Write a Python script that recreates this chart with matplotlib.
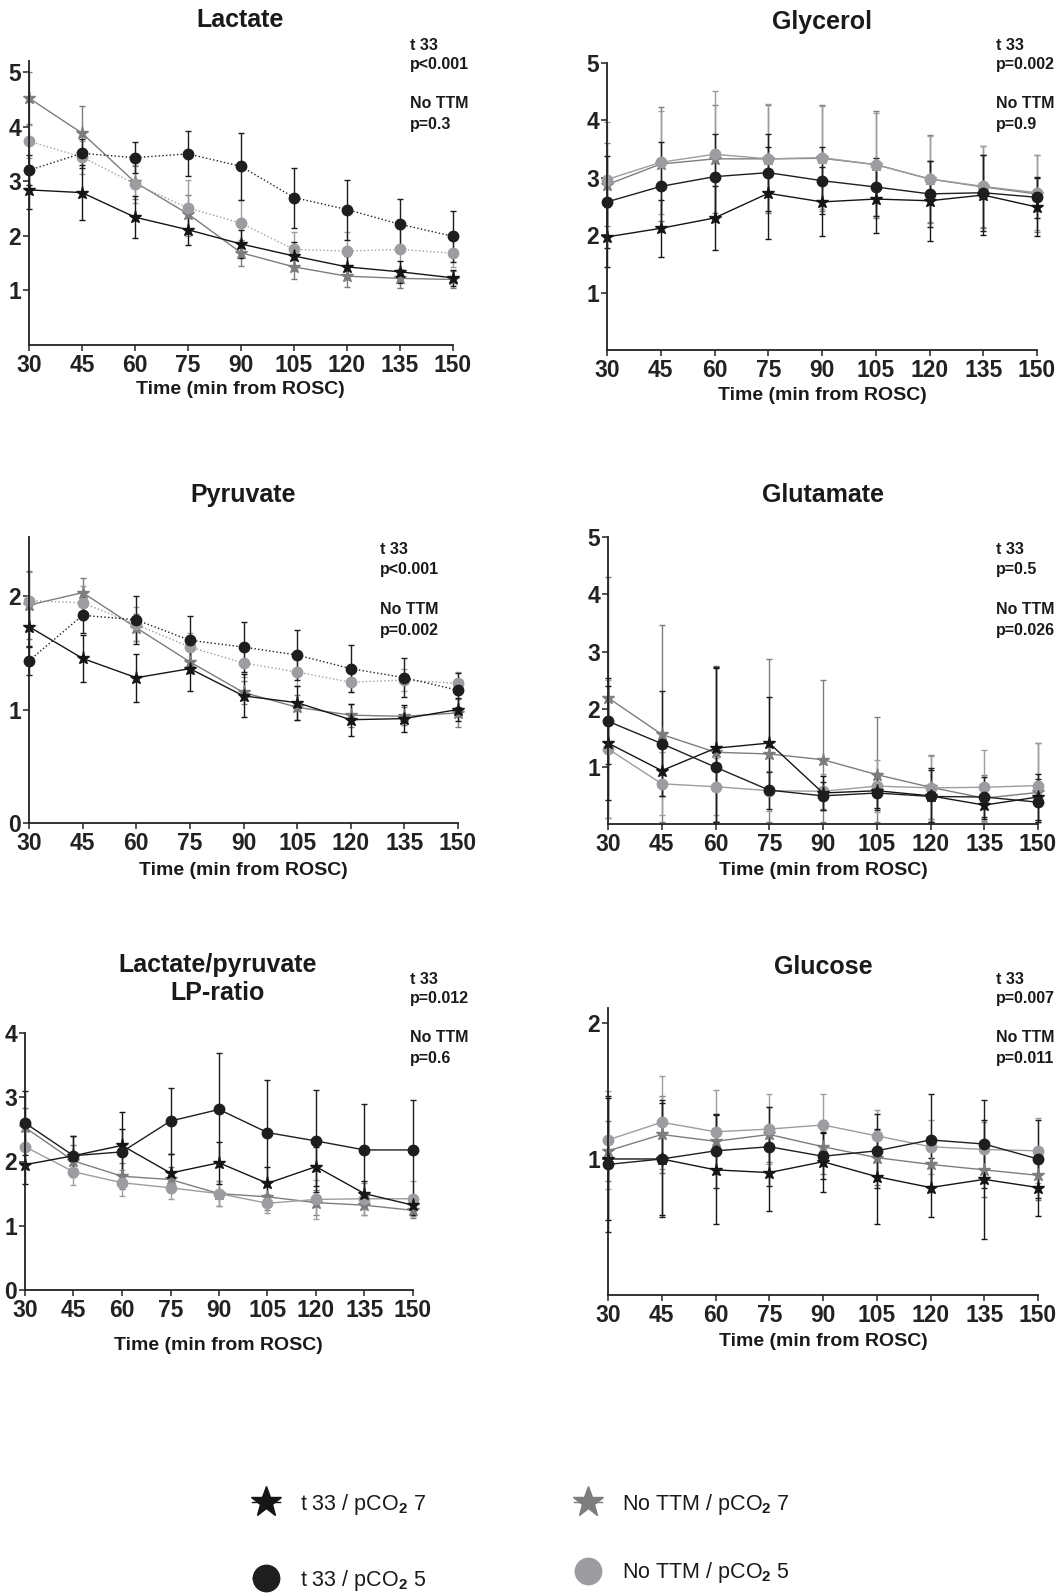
import numpy as np
import matplotlib
matplotlib.use("Agg")
import matplotlib.pyplot as plt
from matplotlib import font_manager
from matplotlib.lines import Line2D

W, H = 1060, 1593

# time points (min from ROSC)
times = [30, 45, 60, 75, 90, 105, 120, 135, 150]

# Lactate
lactate_t7 = [2.84, 2.79, 2.34, 2.11, 1.85, 1.63, 1.43, 1.34, 1.23]
lactate_t7_se = [0.35, 0.5, 0.38, 0.28, 0.25, 0.25, 0.2, 0.2, 0.15]
lactate_t5 = [3.20, 3.51, 3.43, 3.50, 3.27, 2.70, 2.48, 2.21, 1.99]
lactate_t5_se = [0.27, 0.27, 0.28, 0.41, 0.62, 0.55, 0.55, 0.46, 0.47]
lactate_n7 = [4.52, 3.88, 2.98, 2.40, 1.69, 1.43, 1.26, 1.22, 1.20]
lactate_n7_se = [0.48, 0.49, 0.3, 0.35, 0.24, 0.23, 0.2, 0.17, 0.15]
lactate_n5 = [3.73, 3.44, 2.95, 2.51, 2.23, 1.75, 1.72, 1.75, 1.68]
lactate_n5_se = [0.3, 0.3, 0.35, 0.52, 0.42, 0.32, 0.35, 0.38, 0.25]

# Glycerol
glycerol_t7 = [1.97, 2.12, 2.30, 2.73, 2.58, 2.63, 2.60, 2.70, 2.49]
glycerol_t7_se = [0.53, 0.5, 0.56, 0.8, 0.6, 0.6, 0.7, 0.7, 0.5]
glycerol_t5 = [2.58, 2.85, 3.02, 3.09, 2.95, 2.84, 2.72, 2.74, 2.66]
glycerol_t5_se = [0.8, 0.78, 0.74, 0.67, 0.58, 0.5, 0.58, 0.66, 0.36]
glycerol_n7 = [2.88, 3.24, 3.33, 3.33, 3.34, 3.23, 2.98, 2.84, 2.72]
glycerol_n7_se = [0.72, 1.0, 0.94, 0.94, 0.92, 0.93, 0.77, 0.72, 0.67]
glycerol_n5 = [2.97, 3.27, 3.41, 3.33, 3.35, 3.23, 2.98, 2.85, 2.74]
glycerol_n5_se = [1.0, 0.9, 1.1, 0.95, 0.9, 0.9, 0.75, 0.7, 0.65]

# Pyruvate
pyruvate_t7 = [1.73, 1.45, 1.28, 1.36, 1.12, 1.06, 0.91, 0.92, 1.00]
pyruvate_t7_se = [0.18, 0.21, 0.21, 0.2, 0.19, 0.15, 0.14, 0.12, 0.1]
pyruvate_t5 = [1.43, 1.83, 1.79, 1.61, 1.55, 1.48, 1.36, 1.28, 1.17]
pyruvate_t5_se = [0.13, 0.16, 0.21, 0.21, 0.22, 0.22, 0.21, 0.17, 0.15]
pyruvate_n7 = [1.92, 2.03, 1.72, 1.42, 1.15, 1.02, 0.95, 0.94, 0.97]
pyruvate_n7_se = [0.3, 0.13, 0.12, 0.1, 0.1, 0.11, 0.1, 0.08, 0.12]
pyruvate_n5 = [1.96, 1.94, 1.75, 1.55, 1.41, 1.33, 1.24, 1.26, 1.23]
pyruvate_n5_se = [0.25, 0.15, 0.15, 0.12, 0.12, 0.12, 0.09, 0.1, 0.1]

# Glutamate
glutamate_t7 = [1.41, 0.93, 1.32, 1.41, 0.54, 0.58, 0.49, 0.33, 0.47]
glutamate_t7_se = [1.0, 0.44, 1.4, 0.8, 0.3, 0.3, 0.45, 0.25, 0.4]
glutamate_t5 = [1.79, 1.40, 0.99, 0.59, 0.49, 0.54, 0.48, 0.47, 0.38]
glutamate_t5_se = [0.75, 0.91, 1.74, 0.32, 0.25, 0.3, 0.5, 0.35, 0.4]
glutamate_n7 = [2.20, 1.56, 1.25, 1.22, 1.12, 0.86, 0.64, 0.45, 0.55]
glutamate_n7_se = [2.1, 1.9, 1.5, 1.66, 1.39, 1.0, 0.56, 0.4, 0.86]
glutamate_n5 = [1.31, 0.70, 0.65, 0.58, 0.57, 0.66, 0.63, 0.64, 0.67]
glutamate_n5_se = [1.2, 0.55, 0.5, 0.35, 0.3, 0.45, 0.55, 0.65, 0.74]

# Lactate/pyruvate ratio
lp_t7 = [1.95, 2.09, 2.25, 1.82, 1.98, 1.66, 1.92, 1.50, 1.32]
lp_t7_se = [0.3, 0.3, 0.52, 0.3, 0.33, 0.25, 0.3, 0.2, 0.15]
lp_t5 = [2.60, 2.09, 2.15, 2.63, 2.81, 2.45, 2.32, 2.18, 2.18]
lp_t5_se = [0.5, 0.3, 0.35, 0.51, 0.88, 0.82, 0.8, 0.72, 0.78]
lp_n7 = [2.53, 2.01, 1.77, 1.72, 1.50, 1.45, 1.36, 1.32, 1.24]
lp_n7_se = [0.3, 0.25, 0.2, 0.2, 0.2, 0.2, 0.2, 0.15, 0.12]
lp_n5 = [2.23, 1.84, 1.67, 1.59, 1.50, 1.35, 1.41, 1.42, 1.42]
lp_n5_se = [0.3, 0.2, 0.2, 0.18, 0.2, 0.15, 0.3, 0.25, 0.27]

# Glucose
glucose_t7 = [1.00, 1.00, 0.92, 0.90, 0.98, 0.87, 0.79, 0.85, 0.79]
glucose_t7_se = [0.45, 0.41, 0.4, 0.28, 0.22, 0.35, 0.22, 0.44, 0.21]
glucose_t5 = [0.96, 1.00, 1.06, 1.09, 1.02, 1.06, 1.14, 1.11, 1.00]
glucose_t5_se = [0.5, 0.43, 0.27, 0.29, 0.17, 0.27, 0.34, 0.32, 0.29]
glucose_n7 = [1.06, 1.18, 1.13, 1.18, 1.09, 1.01, 0.96, 0.92, 0.88]
glucose_n7_se = [0.22, 0.28, 0.2, 0.2, 0.2, 0.2, 0.2, 0.2, 0.18]
glucose_n5 = [1.14, 1.27, 1.20, 1.22, 1.25, 1.17, 1.09, 1.07, 1.06]
glucose_n5_se = [0.36, 0.34, 0.31, 0.26, 0.23, 0.19, 0.2, 0.2, 0.24]

# p-values shown on each panel
pvals = {
    "Lactate": ("p<0.001", "p=0.3"),
    "Glycerol": ("p=0.002", "p=0.9"),
    "Pyruvate": ("p<0.001", "p=0.002"),
    "Glutamate": ("p=0.5", "p=0.026"),
    "LP": ("p=0.012", "p=0.6"),
    "Glucose": ("p=0.007", "p=0.011"),
}

legend_labels = ["t 33 / pCO$_2$ 7", "t 33 / pCO$_2$ 5",
                 "No TTM / pCO$_2$ 7", "No TTM / pCO$_2$ 5"]

BLACK = "#151515"
DARK = "#1e1e1e"
GREY = "#7d7d7d"
LIGHT = "#9d9da1"

names = {f.name for f in font_manager.fontManager.ttflist}
legend_font = "Liberation Sans Narrow" if "Liberation Sans Narrow" in names else "Liberation Sans"
legend_size = 18 if legend_font == "Liberation Sans Narrow" else 15.5

plt.rcParams['font.family'] = ['Liberation Sans', 'DejaVu Sans']
plt.rcParams['font.weight'] = 'bold'
plt.rcParams['mathtext.fontset'] = 'custom'
plt.rcParams['mathtext.rm'] = legend_font
plt.rcParams['mathtext.it'] = legend_font
plt.rcParams['mathtext.bf'] = legend_font


def box(l, t, r, b):
    return [l / W, 1 - b / H, (r - l) / W, (b - t) / H]


def ftext(fig, x, y, s, **kw):
    fig.text(x / W, 1 - y / H, s, **kw)


def draw_series(ax, y, se, color, marker, ms, ls):
    y = np.array(y)
    se = np.array(se)
    lower = np.minimum(se, y - 0.03)
    ax.errorbar(times, y, yerr=[lower, se], color=color, marker=marker, ms=ms,
                ls=ls, lw=1.0, elinewidth=1.0, capsize=2.5, capthick=1.0,
                mec=color, mfc=color, clip_on=False)


def panel(fig, rect, ylim, yticks, series, circle_ls):
    ax = fig.add_axes(box(*rect))
    n7, n7_se, n5, n5_se, t7, t7_se, t5, t5_se = series
    draw_series(ax, n7, n7_se, GREY, "*", 9.5, "-")
    draw_series(ax, n5, n5_se, LIGHT, "o", 7.5, circle_ls)
    draw_series(ax, t7, t7_se, BLACK, "*", 9.5, "-")
    draw_series(ax, t5, t5_se, DARK, "o", 7.5, circle_ls)
    ax.set_xlim(30, 150)
    ax.set_ylim(*ylim)
    ax.set_xticks(times)
    ax.set_yticks(yticks)
    for side in ["top", "right"]:
        ax.spines[side].set_visible(False)
    for side in ["left", "bottom"]:
        ax.spines[side].set_linewidth(1.3)
        ax.spines[side].set_color("#222222")
    ax.tick_params(direction="out", length=4, width=1.1, labelsize=16.5,
                   colors="#222222", pad=1.5)
    ax.tick_params(axis="x", pad=2.5)
    for lab in ax.get_xticklabels() + ax.get_yticklabels():
        lab.set_fontweight("bold")
    return ax


def annotate(fig, x, y, key):
    p1, p2 = pvals[key]
    kw = dict(fontsize=11.5, fontweight="bold", ha="left", va="center", color="#1a1a1a")
    ftext(fig, x, y, "t 33", **kw)
    ftext(fig, x, y + 20, p1, **kw)
    ftext(fig, x, y + 59, "No TTM", **kw)
    ftext(fig, x, y + 80, p2, **kw)


fig = plt.figure(figsize=(W / 100, H / 100), dpi=100)
title_kw = dict(fontsize=18, fontweight="bold", ha="center", va="center", color="#1a1a1a")
xlab_kw = dict(fontsize=14, fontweight="bold", ha="center", va="center", color="#1a1a1a")
xlab = "Time (min from ROSC)"

panel(fig, (29, 61, 453, 345), (0, 5.2), [1, 2, 3, 4, 5],
      (lactate_n7, lactate_n7_se, lactate_n5, lactate_n5_se,
       lactate_t7, lactate_t7_se, lactate_t5, lactate_t5_se), ":")
ftext(fig, 240, 20, "Lactate", **title_kw)
ftext(fig, 240, 389, xlab, **xlab_kw)
annotate(fig, 410, 45, "Lactate")

panel(fig, (607, 63, 1037, 350), (0, 5), [1, 2, 3, 4, 5],
      (glycerol_n7, glycerol_n7_se, glycerol_n5, glycerol_n5_se,
       glycerol_t7, glycerol_t7_se, glycerol_t5, glycerol_t5_se), "-")
ftext(fig, 822, 22, "Glycerol", **title_kw)
ftext(fig, 822, 396, xlab, **xlab_kw)
annotate(fig, 996, 45, "Glycerol")

panel(fig, (29, 537, 458, 823), (0, 2.52), [0, 1, 2],
      (pyruvate_n7, pyruvate_n7_se, pyruvate_n5, pyruvate_n5_se,
       pyruvate_t7, pyruvate_t7_se, pyruvate_t5, pyruvate_t5_se), ":")
ftext(fig, 243, 495, "Pyruvate", **title_kw)
ftext(fig, 243, 870, xlab, **xlab_kw)
annotate(fig, 380, 550, "Pyruvate")

panel(fig, (608, 537, 1038, 824), (0, 5), [1, 2, 3, 4, 5],
      (glutamate_n7, glutamate_n7_se, glutamate_n5, glutamate_n5_se,
       glutamate_t7, glutamate_t7_se, glutamate_t5, glutamate_t5_se), "-")
ftext(fig, 823, 495, "Glutamate", **title_kw)
ftext(fig, 823, 870, xlab, **xlab_kw)
annotate(fig, 996, 550, "Glutamate")

panel(fig, (25, 1033, 413, 1290), (0, 4), [0, 1, 2, 3, 4],
      (lp_n7, lp_n7_se, lp_n5, lp_n5_se, lp_t7, lp_t7_se, lp_t5, lp_t5_se), "-")
ftext(fig, 218, 965, "Lactate/pyruvate", **title_kw)
ftext(fig, 218, 993, "LP-ratio", **title_kw)
ftext(fig, 218, 1346, xlab, **xlab_kw)
annotate(fig, 410, 979, "LP")

panel(fig, (608, 1008, 1038, 1295), (0, 2.11), [1, 2],
      (glucose_n7, glucose_n7_se, glucose_n5, glucose_n5_se,
       glucose_t7, glucose_t7_se, glucose_t5, glucose_t5_se), "-")
ftext(fig, 823, 967, "Glucose", **title_kw)
ftext(fig, 823, 1342, xlab, **xlab_kw)
annotate(fig, 996, 979, "Glucose")

# legend, two columns
h_t7 = Line2D([], [], color=BLACK, marker="*", ms=23, lw=1.0, ls="-")
h_t5 = Line2D([], [], color=DARK, marker="o", ms=19, lw=1.0, ls=":")
h_n7 = Line2D([], [], color=GREY, marker="*", ms=23, lw=1.0, ls="-")
h_n5 = Line2D([], [], color=LIGHT, marker="o", ms=19, lw=1.0, ls=":")

leg_kw = dict(frameon=False, loc="upper left", borderpad=0, borderaxespad=0,
              handlelength=1.3, handletextpad=0.95, labelspacing=2.35,
              prop={"family": legend_font, "size": legend_size, "weight": "normal"})
leg1 = fig.legend([h_t7, h_t5], legend_labels[:2],
                  bbox_to_anchor=(252 / W, 1 - 1492 / H), **leg_kw)
leg_kw["labelspacing"] = 2.0
leg2 = fig.legend([h_n7, h_n5], legend_labels[2:],
                  bbox_to_anchor=(574 / W, 1 - 1492 / H), **leg_kw)
for leg in (leg1, leg2):
    for t in leg.get_texts():
        t.set_color("#1a1a1a")

plt.savefig("out.png", dpi=100)
